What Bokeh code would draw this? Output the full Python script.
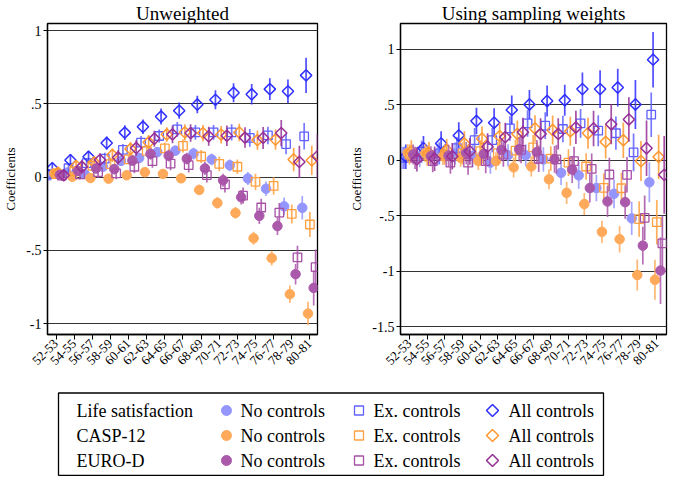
import math
from bokeh.plotting import figure
from bokeh.layouts import column, row
from bokeh.models import FixedTicker, Range1d
from bokeh.embed import file_html
from bokeh.resources import INLINE
from bokeh.core.properties import value

# ---------------- data ----------------
groups = ["52-53", "54-55", "56-57", "58-59", "60-61", "62-63", "64-65", "66-67",
          "68-69", "70-71", "72-73", "74-75", "76-77", "78-79", "80-81"]
measures = ["Life satisfaction", "CASP-12", "EURO-D"]
controls = ["No controls", "Ex. controls", "All controls"]

# Unweighted: point estimates
uw_ls_none = [0.01, 0.03, 0.02, 0.07, 0.11, 0.13, 0.17, 0.18, 0.16, 0.12, 0.08, -0.01, -0.08, -0.20, -0.21]
uw_ls_ex = [0.02, 0.06, 0.095, 0.125, 0.185, 0.235, 0.28, 0.325, 0.305, 0.305, 0.305, 0.267, 0.284, 0.225, 0.278]
uw_ls_all = [0.06, 0.115, 0.138, 0.232, 0.303, 0.343, 0.413, 0.453, 0.495, 0.527, 0.575, 0.565, 0.600, 0.585, 0.694]
uw_casp_none = [0.025, 0.002, -0.007, -0.011, 0.012, 0.033, 0.021, -0.009, -0.088, -0.177, -0.245, -0.418, -0.554, -0.800, -0.932]
uw_casp_ex = [0.02, 0.04, 0.077, 0.088, 0.12, 0.178, 0.195, 0.212, 0.14, 0.09, 0.07, -0.033, -0.061, -0.252, -0.324]
uw_casp_all = [0.03, 0.075, 0.10, 0.15, 0.192, 0.237, 0.29, 0.305, 0.30, 0.289, 0.304, 0.252, 0.256, 0.12, 0.114]
uw_euro_none = [0.015, 0.042, 0.059, 0.054, 0.112, 0.158, 0.146, 0.125, 0.059, -0.022, -0.138, -0.265, -0.335, -0.663, -0.757]
uw_euro_ex = [0.01, 0.018, 0.034, 0.025, 0.07, 0.108, 0.092, 0.081, 0.013, -0.05, -0.127, -0.208, -0.243, -0.549, -0.615]
uw_euro_all = [0.012, 0.07, 0.117, 0.133, 0.198, 0.261, 0.291, 0.30, 0.278, 0.282, 0.269, 0.267, 0.30, 0.103, 0.142]

# Unweighted: confidence-interval half widths
uw_ls_none_ci = [0.03, 0.03, 0.03, 0.03, 0.035, 0.035, 0.035, 0.035, 0.04, 0.04, 0.04, 0.045, 0.05, 0.06, 0.08]
uw_ls_ex_ci = [0.035, 0.035, 0.035, 0.04, 0.04, 0.045, 0.045, 0.05, 0.05, 0.05, 0.055, 0.06, 0.06, 0.07, 0.09]
uw_ls_all_ci = [0.035, 0.04, 0.04, 0.045, 0.05, 0.05, 0.055, 0.055, 0.06, 0.065, 0.065, 0.07, 0.075, 0.08, 0.12]
uw_casp_none_ci = [0.025, 0.025, 0.025, 0.025, 0.03, 0.03, 0.03, 0.03, 0.035, 0.04, 0.04, 0.045, 0.05, 0.06, 0.08]
uw_casp_ex_ci = [0.03, 0.03, 0.035, 0.035, 0.035, 0.04, 0.04, 0.045, 0.045, 0.05, 0.05, 0.055, 0.06, 0.065, 0.085]
uw_casp_all_ci = [0.035, 0.04, 0.04, 0.045, 0.045, 0.05, 0.05, 0.055, 0.055, 0.06, 0.06, 0.065, 0.07, 0.08, 0.10]
uw_euro_none_ci = [0.03, 0.03, 0.035, 0.035, 0.035, 0.04, 0.04, 0.04, 0.045, 0.045, 0.05, 0.055, 0.06, 0.07, 0.12]
uw_euro_ex_ci = [0.035, 0.035, 0.04, 0.04, 0.045, 0.045, 0.045, 0.05, 0.05, 0.055, 0.055, 0.06, 0.065, 0.08, 0.12]
uw_euro_all_ci = [0.04, 0.045, 0.045, 0.05, 0.055, 0.055, 0.06, 0.06, 0.065, 0.07, 0.07, 0.075, 0.09, 0.11, 0.15]

# Using sampling weights: point estimates
w_ls_none = [0.02, 0.035, 0.05, 0.06, 0.035, -0.023, 0.043, 0.043, 0.006, -0.115, -0.138, -0.252, -0.304, -0.526, -0.20]
w_ls_ex = [0.02, 0.075, 0.06, 0.107, 0.179, 0.18, 0.285, 0.33, 0.31, 0.28, 0.331, 0.265, 0.242, 0.069, 0.409]
w_ls_all = [0.03, 0.107, 0.15, 0.222, 0.352, 0.337, 0.452, 0.501, 0.533, 0.539, 0.64, 0.64, 0.654, 0.501, 0.905]
w_casp_none = [0.063, 0.063, 0.035, 0.02, -0.009, -0.009, -0.066, -0.058, -0.173, -0.295, -0.396, -0.647, -0.713, -1.036, -1.079]
w_casp_ex = [0.05, 0.04, 0.05, 0.06, 0.08, 0.063, 0.086, 0.115, 0.014, -0.023, -0.058, -0.25, -0.254, -0.532, -0.56]
w_casp_all = [0.078, 0.063, 0.09, 0.15, 0.193, 0.216, 0.236, 0.285, 0.271, 0.26, 0.242, 0.164, 0.179, -0.009, 0.029]
w_euro_none = [0.05, 0.035, 0.04, 0.063, 0.055, 0.092, 0.098, 0.072, 0.006, -0.086, -0.252, -0.373, -0.379, -0.771, -0.996]
w_euro_ex = [0.02, -0.01, -0.023, -0.023, -0.009, 0.05, 0.092, 0.012, 0.006, -0.009, -0.08, -0.13, -0.133, -0.52, -0.75]
w_euro_all = [0.006, 0.012, 0.035, 0.078, 0.121, 0.207, 0.251, 0.236, 0.236, 0.294, 0.285, 0.323, 0.366, 0.107, -0.133]

# Using sampling weights: confidence-interval half widths
w_ls_none_ci = [0.10, 0.10, 0.10, 0.10, 0.10, 0.10, 0.10, 0.10, 0.11, 0.11, 0.12, 0.12, 0.13, 0.15, 0.18]
w_ls_ex_ci = [0.10, 0.10, 0.10, 0.10, 0.11, 0.11, 0.11, 0.12, 0.12, 0.12, 0.13, 0.14, 0.15, 0.17, 0.20]
w_ls_all_ci = [0.11, 0.11, 0.11, 0.12, 0.12, 0.13, 0.13, 0.13, 0.14, 0.14, 0.15, 0.17, 0.17, 0.22, 0.25]
w_casp_none_ci = [0.08, 0.08, 0.08, 0.08, 0.08, 0.08, 0.09, 0.09, 0.09, 0.10, 0.10, 0.10, 0.12, 0.14, 0.18]
w_casp_ex_ci = [0.09, 0.09, 0.09, 0.10, 0.10, 0.10, 0.10, 0.11, 0.11, 0.12, 0.12, 0.13, 0.14, 0.16, 0.20]
w_casp_all_ci = [0.10, 0.10, 0.10, 0.11, 0.11, 0.12, 0.12, 0.12, 0.13, 0.13, 0.14, 0.15, 0.16, 0.18, 0.20]
w_euro_none_ci = [0.09, 0.09, 0.10, 0.10, 0.10, 0.10, 0.11, 0.11, 0.12, 0.12, 0.13, 0.14, 0.15, 0.17, 0.30]
w_euro_ex_ci = [0.10, 0.10, 0.10, 0.11, 0.11, 0.11, 0.12, 0.12, 0.13, 0.13, 0.14, 0.15, 0.16, 0.20, 0.25]
w_euro_all_ci = [0.11, 0.11, 0.12, 0.12, 0.12, 0.13, 0.13, 0.14, 0.14, 0.15, 0.16, 0.18, 0.20, 0.25, 0.35]

uw_est = [[uw_ls_none, uw_ls_ex, uw_ls_all], [uw_casp_none, uw_casp_ex, uw_casp_all], [uw_euro_none, uw_euro_ex, uw_euro_all]]
uw_ci = [[uw_ls_none_ci, uw_ls_ex_ci, uw_ls_all_ci], [uw_casp_none_ci, uw_casp_ex_ci, uw_casp_all_ci], [uw_euro_none_ci, uw_euro_ex_ci, uw_euro_all_ci]]
w_est = [[w_ls_none, w_ls_ex, w_ls_all], [w_casp_none, w_casp_ex, w_casp_all], [w_euro_none, w_euro_ex, w_euro_all]]
w_ci = [[w_ls_none_ci, w_ls_ex_ci, w_ls_all_ci], [w_casp_none_ci, w_casp_ex_ci, w_casp_all_ci], [w_euro_none_ci, w_euro_ex_ci, w_euro_all_ci]]

# ---------------- style ----------------
SERIF = "'Liberation Serif', 'Times New Roman', serif"
COLORS = [["#9595ff", "#6060ff", "#2e2eff"],
          ["#ffaa5a", "#ffa040", "#ff9830"],
          ["#ab5aab", "#a650a6", "#963096"]]
STEP = 0.105


def draw_series(p, est, ci):
    for m in range(3):
        for c in range(3):
            k = m * 3 + c
            xs = [i + (k - 4) * STEP for i in range(len(groups))]
            ys = est[m][c]
            lo = [y - h for y, h in zip(ys, ci[m][c])]
            hi = [y + h for y, h in zip(ys, ci[m][c])]
            col = COLORS[m][c]
            p.segment(xs, lo, xs, hi, line_color=col, line_width=1.7, line_alpha=0.85)
            if c == 0:
                p.scatter(xs, ys, marker="circle", size=9.5, fill_color=col, line_color=col, fill_alpha=1.0)
            elif c == 1:
                p.scatter(xs, ys, marker="square", size=8.5, fill_color=None, line_color=col, line_width=1.3)
            else:
                p.scatter(xs, ys, marker="square", size=8, angle=math.pi / 4, fill_color=None,
                          line_color=col, line_width=1.5)


def panel(title_text, est, ci, yr, xr, yticks, width, bl, br):
    p = figure(width=width, height=380, x_range=Range1d(*xr), y_range=Range1d(*yr),
               output_backend="svg", toolbar_location=None,
               min_border_left=bl, min_border_right=br, min_border_top=21, min_border_bottom=46)
    p.title.text = title_text
    p.title.align = "center"
    p.title.text_font = SERIF
    p.title.text_font_size = "19px"
    p.title.text_font_style = "normal"
    p.title.text_color = "black"
    p.title.standoff = 0
    p.background_fill_color = "white"
    p.border_fill_color = "white"
    p.outline_line_color = "black"
    p.outline_line_width = 1.3

    labels = {}
    for t in yticks:
        s = ("%g" % t)
        s = s.replace("0.", ".")
        labels[t] = s
    p.yaxis.ticker = FixedTicker(ticks=yticks)
    p.yaxis.major_label_overrides = labels
    p.yaxis.axis_label = "Coefficients"
    p.yaxis.axis_label_text_font = SERIF
    p.yaxis.axis_label_text_font_size = "13px"
    p.yaxis.axis_label_text_font_style = "normal"
    p.yaxis.axis_label_standoff = 5
    p.yaxis.major_label_text_font = SERIF
    p.yaxis.major_label_text_font_size = "14px"
    p.yaxis.major_label_standoff = 2
    p.yaxis.major_tick_out = 4
    p.yaxis.major_tick_in = 0
    p.yaxis.minor_tick_out = 0
    p.yaxis.minor_tick_in = 0

    p.xaxis.ticker = FixedTicker(ticks=list(range(len(groups))))
    p.xaxis.major_label_overrides = {i: g for i, g in enumerate(groups)}
    p.xaxis.major_label_orientation = math.pi / 4
    p.xaxis.major_label_text_font = SERIF
    p.xaxis.major_label_text_font_size = "13px"
    p.xaxis.major_label_standoff = 2
    p.xaxis.major_tick_out = 5
    p.xaxis.major_tick_in = 0
    p.xaxis.minor_tick_out = 0
    p.xaxis.minor_tick_in = 0

    for ax in (p.xaxis[0], p.yaxis[0]):
        ax.axis_line_color = "black"
        ax.axis_line_width = 1.3
        ax.major_tick_line_color = "black"
        ax.major_label_text_color = "black"
        ax.axis_label_text_color = "black"

    p.xgrid.visible = False
    p.ygrid.ticker = FixedTicker(ticks=yticks)
    p.ygrid.grid_line_color = "#333333"
    p.ygrid.grid_line_width = 1.2
    p.ygrid.grid_line_alpha = 1.0

    draw_series(p, est, ci)
    return p


p1 = panel("Unweighted", uw_est, uw_ci, (-1.075, 1.048), (-0.475, 14.42),
           [-1.0, -0.5, 0.0, 0.5, 1.0], 346, 41, 29)
p2 = panel("Using sampling weights", w_est, w_ci, (-1.572, 1.231), (-0.51, 14.55),
           [-1.5, -1.0, -0.5, 0.0, 0.5, 1.0], 323, 50, 3)

# ---------------- legend ----------------
LW, LH = 669, 96
lg = figure(width=LW, height=LH, x_range=Range1d(0, LW), y_range=Range1d(LH, 0),
            output_backend="svg", toolbar_location=None, min_border=0)
lg.axis.visible = False
lg.grid.visible = False
lg.outline_line_color = None
lg.quad(left=[58], right=[603], top=[12.5], bottom=[94.8], fill_color=None,
        line_color="black", line_width=1.3)
row_y = [30, 55, 80]
lg.text(x=[76] * 3, y=row_y, text=measures, text_font=value(SERIF), text_font_size="18px",
        text_baseline="middle", text_color="black")
marker_x = [226, 358.5, 492]
text_x = [240, 373, 508]
for c in range(3):
    for m in range(3):
        col = COLORS[m][c]
        if c == 0:
            lg.scatter([marker_x[c]], [row_y[m]], marker="circle", size=10, fill_color=col, line_color=col)
        elif c == 1:
            lg.scatter([marker_x[c]], [row_y[m]], marker="square", size=9, fill_color=None,
                       line_color=col, line_width=1.3)
        else:
            lg.scatter([marker_x[c]], [row_y[m]], marker="square", size=8.5, angle=math.pi / 4,
                       fill_color=None, line_color=col, line_width=1.5)
    lg.text(x=[text_x[c]] * 3, y=row_y, text=[controls[c]] * 3, text_font=value(SERIF),
            text_font_size="18px", text_baseline="middle", text_color="black")

layout = column(row(p1, p2), lg)
open("out.html", "w").write(file_html(layout, INLINE))
